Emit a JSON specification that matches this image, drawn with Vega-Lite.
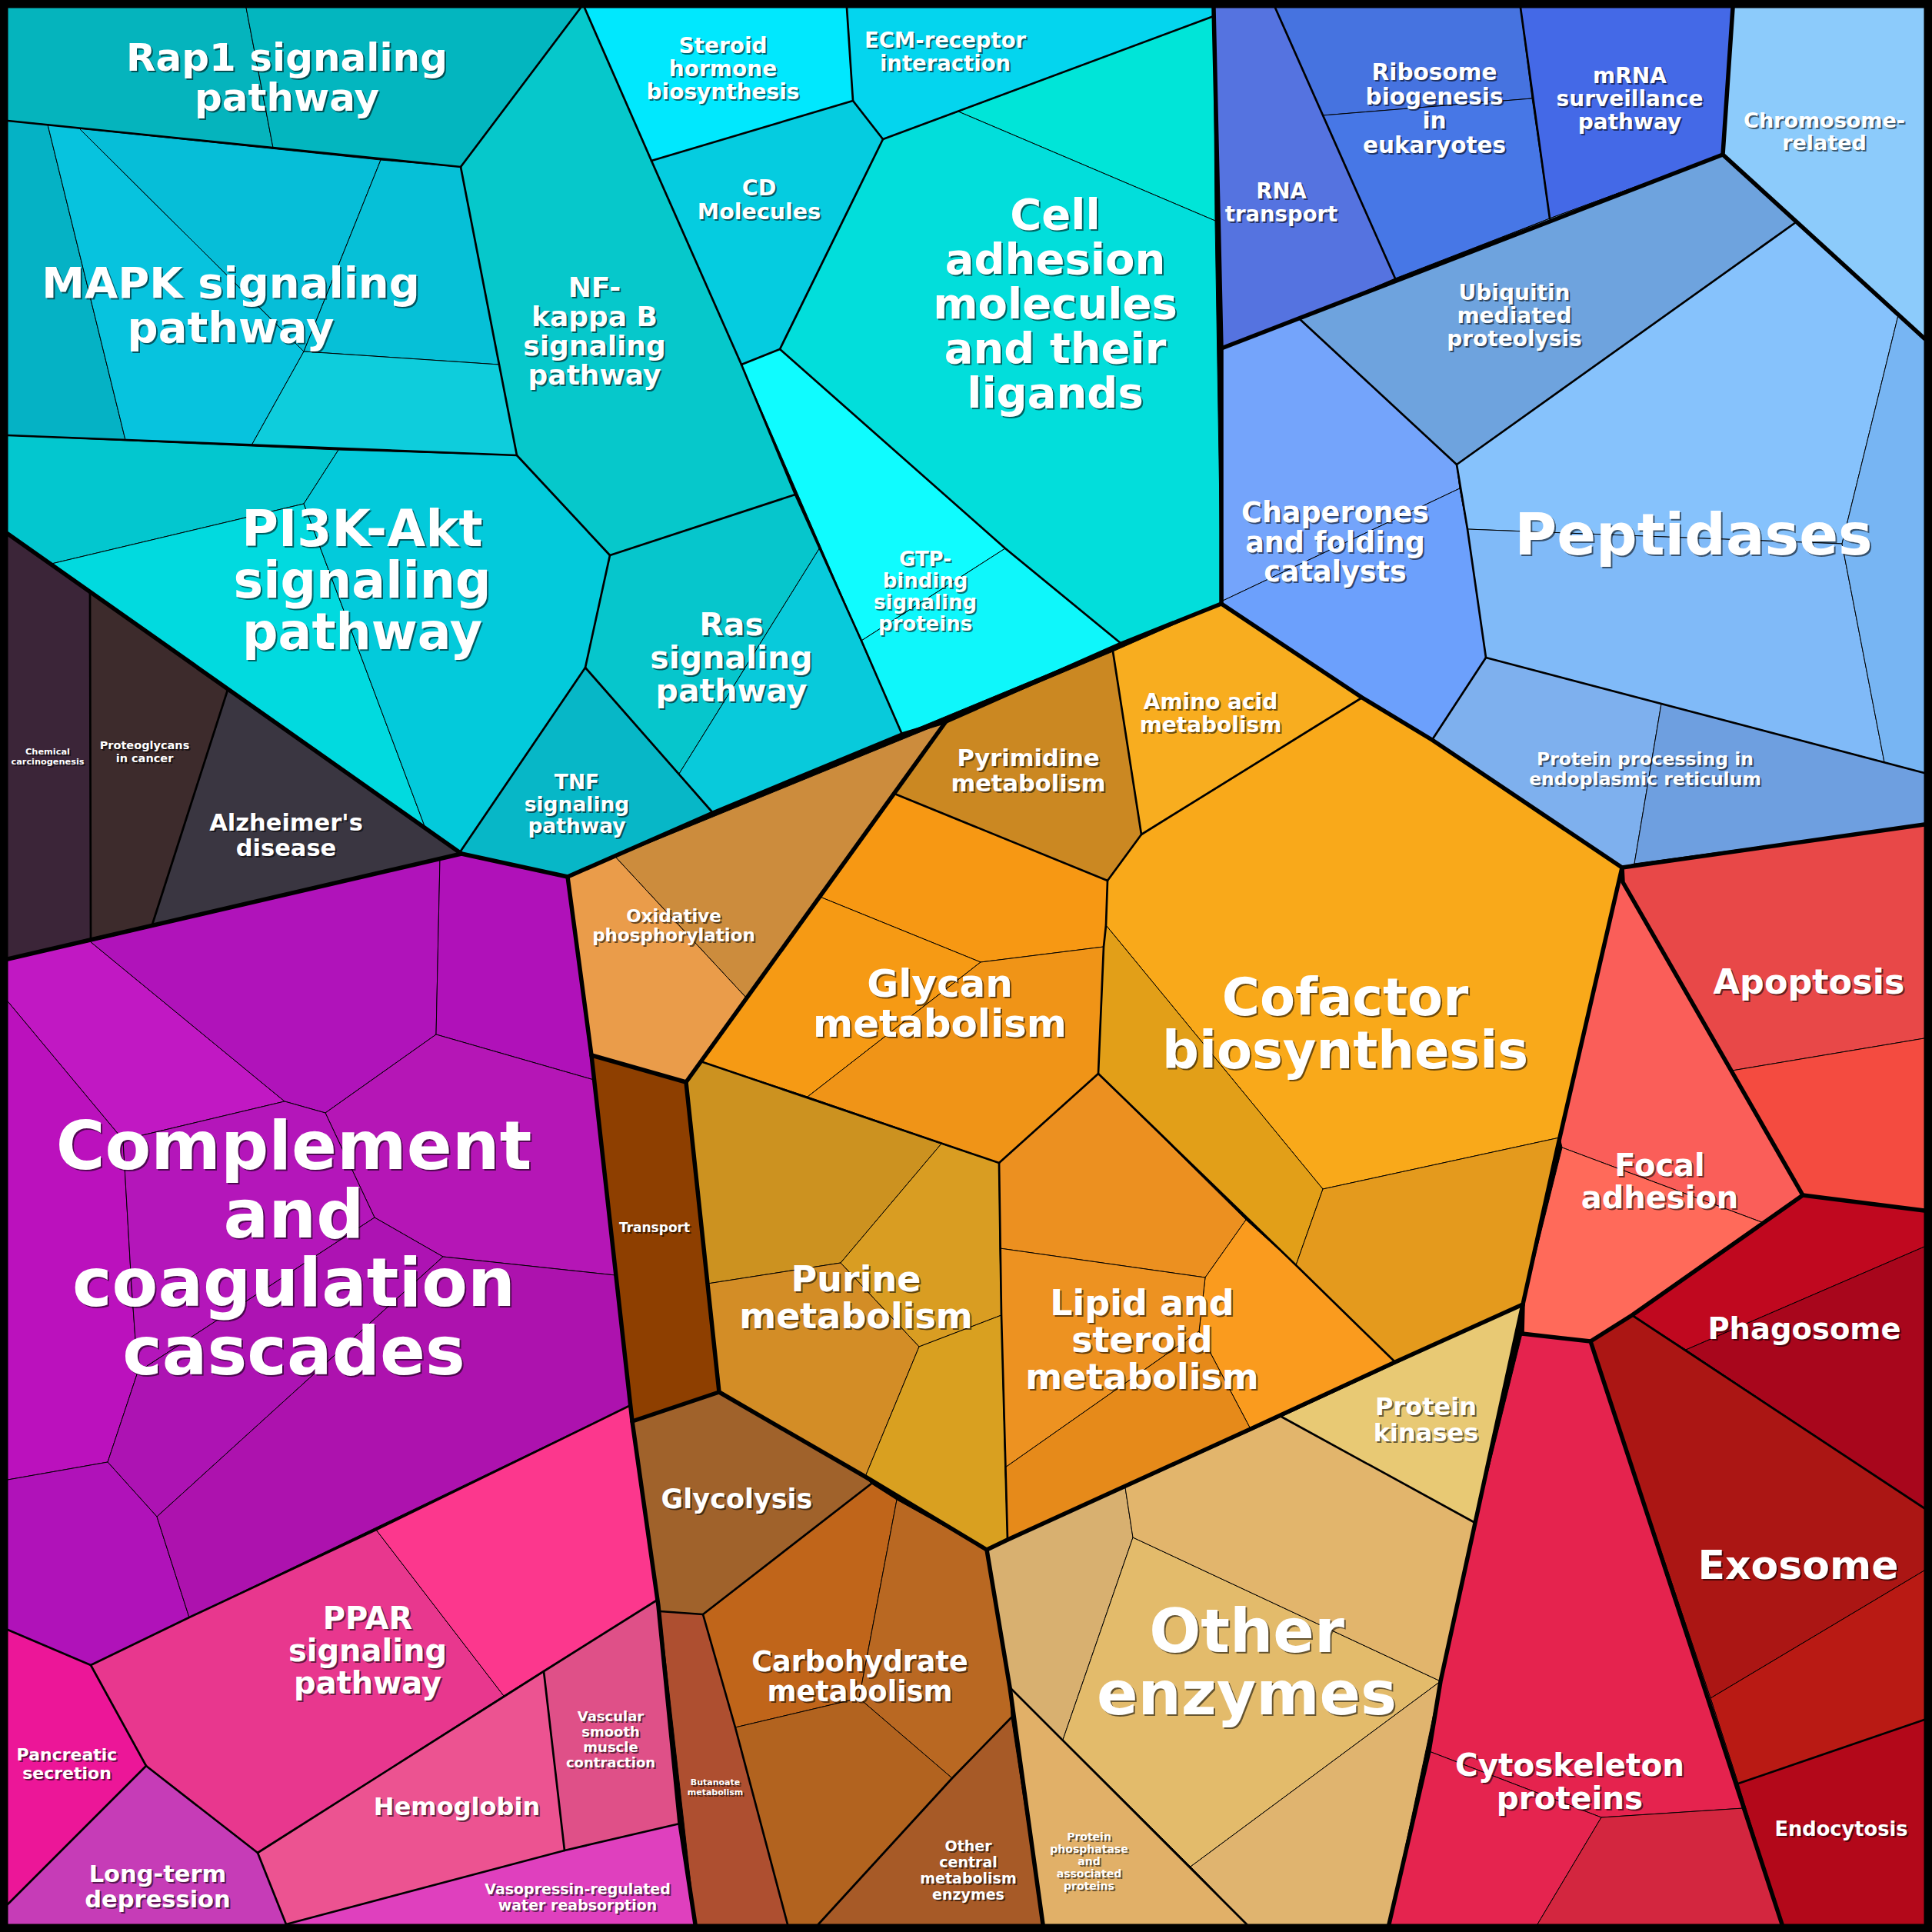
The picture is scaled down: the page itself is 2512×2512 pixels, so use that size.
{
"$schema":"https://vega.github.io/schema/vega-lite/v6.json",
"width":2512,"height":2512,"padding":0,"autosize":{"type":"none"},
"background":"#000000",
"view":{"stroke":null},
"projection":{"type":"identity"},
"datasets":{
"frame":[{"type":"Feature","properties":{"id":"frame"},"geometry":{"type":"Polygon","coordinates":[[[0,0],[2512,0],[2512,2512],[0,2512],[0,0]]]}}],
"cells":[
{"type":"Feature","properties":{"id":"rap1_a"},"geometry":{"type":"Polygon","coordinates":[[[10,10],[320,10],[355,192],[10,157],[10,10]]]}},
{"type":"Feature","properties":{"id":"rap1_b"},"geometry":{"type":"Polygon","coordinates":[[[320,10],[755,10],[599,217],[355,192],[320,10]]]}},
{"type":"Feature","properties":{"id":"mapk_1"},"geometry":{"type":"Polygon","coordinates":[[[10,157],[62,162],[163,572],[10,566],[10,157]]]}},
{"type":"Feature","properties":{"id":"mapk_2"},"geometry":{"type":"Polygon","coordinates":[[[62,162],[103,167],[395,457],[327,579],[163,572],[62,162]]]}},
{"type":"Feature","properties":{"id":"mapk_3"},"geometry":{"type":"Polygon","coordinates":[[[103,167],[495,208],[395,457],[103,167]]]}},
{"type":"Feature","properties":{"id":"mapk_4"},"geometry":{"type":"Polygon","coordinates":[[[495,208],[599,217],[649,474],[395,457],[495,208]]]}},
{"type":"Feature","properties":{"id":"mapk_5"},"geometry":{"type":"Polygon","coordinates":[[[395,457],[649,474],[672,592],[327,579],[395,457]]]}},
{"type":"Feature","properties":{"id":"nfkb"},"geometry":{"type":"Polygon","coordinates":[[[599,217],[755,10],[760,10],[847,209],[964,474],[1034,643],[793,722],[672,592],[649,474],[599,217]]]}},
{"type":"Feature","properties":{"id":"pi3k_1"},"geometry":{"type":"Polygon","coordinates":[[[10,566],[440,585],[395,655],[67,733],[10,694],[10,566]]]}},
{"type":"Feature","properties":{"id":"pi3k_2"},"geometry":{"type":"Polygon","coordinates":[[[67,733],[395,655],[552,1074],[67,733]]]}},
{"type":"Feature","properties":{"id":"pi3k_3"},"geometry":{"type":"Polygon","coordinates":[[[440,585],[672,592],[793,722],[761,868],[598,1108],[552,1074],[395,655],[440,585]]]}},
{"type":"Feature","properties":{"id":"ras_1"},"geometry":{"type":"Polygon","coordinates":[[[793,722],[1034,643],[1066,712],[883,1006],[761,868],[793,722]]]}},
{"type":"Feature","properties":{"id":"ras_2"},"geometry":{"type":"Polygon","coordinates":[[[1066,712],[1173,955],[927,1057],[883,1006],[1066,712]]]}},
{"type":"Feature","properties":{"id":"tnf"},"geometry":{"type":"Polygon","coordinates":[[[761,868],[927,1057],[738,1140],[598,1108],[761,868]]]}},
{"type":"Feature","properties":{"id":"steroid"},"geometry":{"type":"Polygon","coordinates":[[[760,10],[1101,10],[1109,131],[847,209],[760,10]]]}},
{"type":"Feature","properties":{"id":"ecm"},"geometry":{"type":"Polygon","coordinates":[[[1101,10],[1578,10],[1578,21],[1148,181],[1109,131],[1101,10]]]}},
{"type":"Feature","properties":{"id":"cd"},"geometry":{"type":"Polygon","coordinates":[[[847,209],[1109,131],[1148,181],[1014,454],[964,474],[847,209]]]}},
{"type":"Feature","properties":{"id":"cam_1"},"geometry":{"type":"Polygon","coordinates":[[[1246,145],[1578,21],[1580,287],[1246,145]]]}},
{"type":"Feature","properties":{"id":"cam_2"},"geometry":{"type":"Polygon","coordinates":[[[1148,181],[1246,145],[1580,287],[1588,785],[1458,837],[1307,713],[1014,454],[1148,181]]]}},
{"type":"Feature","properties":{"id":"gtp_1"},"geometry":{"type":"Polygon","coordinates":[[[964,474],[1014,454],[1307,713],[1120,833],[964,474]]]}},
{"type":"Feature","properties":{"id":"gtp_2"},"geometry":{"type":"Polygon","coordinates":[[[1120,833],[1307,713],[1458,837],[1173,955],[1120,833]]]}},
{"type":"Feature","properties":{"id":"chem"},"geometry":{"type":"Polygon","coordinates":[[[10,694],[117,770],[118,1220],[10,1247],[10,694]]]}},
{"type":"Feature","properties":{"id":"proteo"},"geometry":{"type":"Polygon","coordinates":[[[117,770],[296,897],[198,1202],[118,1220],[117,770]]]}},
{"type":"Feature","properties":{"id":"alz"},"geometry":{"type":"Polygon","coordinates":[[[296,897],[600,1110],[198,1202],[296,897]]]}},
{"type":"Feature","properties":{"id":"comp_1"},"geometry":{"type":"Polygon","coordinates":[[[10,1247],[117,1224],[370,1432],[160,1482],[10,1302],[10,1247]]]}},
{"type":"Feature","properties":{"id":"comp_2"},"geometry":{"type":"Polygon","coordinates":[[[10,1302],[160,1482],[171,1672],[179,1784],[140,1901],[10,1924],[10,1302]]]}},
{"type":"Feature","properties":{"id":"comp_3"},"geometry":{"type":"Polygon","coordinates":[[[117,1224],[572,1117],[567,1345],[423,1447],[370,1432],[117,1224]]]}},
{"type":"Feature","properties":{"id":"comp_4"},"geometry":{"type":"Polygon","coordinates":[[[572,1117],[600,1110],[738,1140],[769,1372],[772,1404],[567,1345],[572,1117]]]}},
{"type":"Feature","properties":{"id":"comp_5"},"geometry":{"type":"Polygon","coordinates":[[[567,1345],[772,1404],[800,1658],[576,1634],[487,1583],[423,1447],[567,1345]]]}},
{"type":"Feature","properties":{"id":"comp_6"},"geometry":{"type":"Polygon","coordinates":[[[160,1482],[370,1432],[423,1447],[487,1583],[179,1784],[171,1672],[160,1482]]]}},
{"type":"Feature","properties":{"id":"comp_7"},"geometry":{"type":"Polygon","coordinates":[[[179,1784],[487,1583],[576,1634],[204,1972],[140,1901],[179,1784]]]}},
{"type":"Feature","properties":{"id":"comp_8"},"geometry":{"type":"Polygon","coordinates":[[[10,1924],[140,1901],[204,1972],[246,2103],[118,2165],[10,2119],[10,1924]]]}},
{"type":"Feature","properties":{"id":"comp_9"},"geometry":{"type":"Polygon","coordinates":[[[204,1972],[576,1634],[800,1658],[820,1827],[246,2103],[204,1972]]]}},
{"type":"Feature","properties":{"id":"panc"},"geometry":{"type":"Polygon","coordinates":[[[10,2119],[118,2165],[190,2296],[10,2476],[10,2119]]]}},
{"type":"Feature","properties":{"id":"ltd"},"geometry":{"type":"Polygon","coordinates":[[[10,2476],[190,2296],[335,2409],[372,2502],[10,2502],[10,2476]]]}},
{"type":"Feature","properties":{"id":"ppar_1"},"geometry":{"type":"Polygon","coordinates":[[[118,2165],[246,2103],[489,1989],[655,2205],[335,2409],[190,2296],[118,2165]]]}},
{"type":"Feature","properties":{"id":"ppar_2"},"geometry":{"type":"Polygon","coordinates":[[[489,1989],[820,1827],[855,2080],[655,2205],[489,1989]]]}},
{"type":"Feature","properties":{"id":"hemo"},"geometry":{"type":"Polygon","coordinates":[[[335,2409],[707,2173],[734,2406],[372,2502],[335,2409]]]}},
{"type":"Feature","properties":{"id":"vsmc"},"geometry":{"type":"Polygon","coordinates":[[[707,2173],[855,2080],[884,2371],[734,2406],[707,2173]]]}},
{"type":"Feature","properties":{"id":"vaso"},"geometry":{"type":"Polygon","coordinates":[[[372,2502],[734,2406],[884,2371],[904,2502],[372,2502]]]}},
{"type":"Feature","properties":{"id":"oxphos_1"},"geometry":{"type":"Polygon","coordinates":[[[800,1114],[1230,938],[970,1297],[800,1114]]]}},
{"type":"Feature","properties":{"id":"oxphos_2"},"geometry":{"type":"Polygon","coordinates":[[[738,1140],[800,1114],[970,1297],[892,1407],[769,1372],[738,1140]]]}},
{"type":"Feature","properties":{"id":"transport"},"geometry":{"type":"Polygon","coordinates":[[[769,1372],[892,1407],[935,1810],[822,1848],[769,1372]]]}},
{"type":"Feature","properties":{"id":"pyr"},"geometry":{"type":"Polygon","coordinates":[[[1230,938],[1447,847],[1484,1085],[1440,1145],[1163,1032],[1230,938]]]}},
{"type":"Feature","properties":{"id":"amino"},"geometry":{"type":"Polygon","coordinates":[[[1447,847],[1588,785],[1771,907],[1484,1085],[1447,847]]]}},
{"type":"Feature","properties":{"id":"glycan_1"},"geometry":{"type":"Polygon","coordinates":[[[1163,1032],[1440,1145],[1438,1203],[1435,1231],[1275,1251],[1066,1166],[1163,1032]]]}},
{"type":"Feature","properties":{"id":"glycan_2"},"geometry":{"type":"Polygon","coordinates":[[[1066,1166],[1275,1251],[1050,1426],[911,1380],[1066,1166]]]}},
{"type":"Feature","properties":{"id":"glycan_3"},"geometry":{"type":"Polygon","coordinates":[[[1275,1251],[1435,1231],[1428,1396],[1299,1512],[1050,1426],[1275,1251]]]}},
{"type":"Feature","properties":{"id":"cof_1"},"geometry":{"type":"Polygon","coordinates":[[[1484,1085],[1771,907],[1862,962],[2109,1128],[2028,1479],[1720,1546],[1438,1203],[1440,1145],[1484,1085]]]}},
{"type":"Feature","properties":{"id":"cof_2"},"geometry":{"type":"Polygon","coordinates":[[[1438,1203],[1720,1546],[1685,1645],[1428,1396],[1435,1231],[1438,1203]]]}},
{"type":"Feature","properties":{"id":"cof_3"},"geometry":{"type":"Polygon","coordinates":[[[1720,1546],[2028,1479],[1980,1696],[1814,1771],[1685,1645],[1720,1546]]]}},
{"type":"Feature","properties":{"id":"pur_1"},"geometry":{"type":"Polygon","coordinates":[[[911,1380],[1224,1487],[1093,1642],[920,1669],[892,1407],[911,1380]]]}},
{"type":"Feature","properties":{"id":"pur_2"},"geometry":{"type":"Polygon","coordinates":[[[1224,1487],[1299,1512],[1302,1710],[1195,1751],[1093,1642],[1224,1487]]]}},
{"type":"Feature","properties":{"id":"pur_3"},"geometry":{"type":"Polygon","coordinates":[[[920,1669],[1093,1642],[1195,1751],[1125,1920],[935,1810],[920,1669]]]}},
{"type":"Feature","properties":{"id":"pur_4"},"geometry":{"type":"Polygon","coordinates":[[[1195,1751],[1302,1710],[1307,1908],[1310,2002],[1283,2015],[1125,1920],[1195,1751]]]}},
{"type":"Feature","properties":{"id":"lipid_1"},"geometry":{"type":"Polygon","coordinates":[[[1299,1512],[1428,1396],[1620,1586],[1567,1661],[1300,1623],[1299,1512]]]}},
{"type":"Feature","properties":{"id":"lipid_2"},"geometry":{"type":"Polygon","coordinates":[[[1620,1586],[1685,1645],[1814,1771],[1626,1858],[1559,1731],[1567,1661],[1620,1586]]]}},
{"type":"Feature","properties":{"id":"lipid_3"},"geometry":{"type":"Polygon","coordinates":[[[1300,1623],[1567,1661],[1559,1731],[1307,1908],[1302,1710],[1300,1623]]]}},
{"type":"Feature","properties":{"id":"lipid_4"},"geometry":{"type":"Polygon","coordinates":[[[1307,1908],[1559,1731],[1626,1858],[1310,2002],[1307,1908]]]}},
{"type":"Feature","properties":{"id":"glycolysis"},"geometry":{"type":"Polygon","coordinates":[[[822,1848],[935,1810],[1125,1920],[1133,1929],[914,2099],[858,2095],[822,1848]]]}},
{"type":"Feature","properties":{"id":"carb_1"},"geometry":{"type":"Polygon","coordinates":[[[1133,1929],[1166,1950],[1117,2208],[956,2246],[914,2099],[1133,1929]]]}},
{"type":"Feature","properties":{"id":"carb_2"},"geometry":{"type":"Polygon","coordinates":[[[1166,1950],[1283,2015],[1313,2194],[1315,2233],[1238,2312],[1117,2208],[1166,1950]]]}},
{"type":"Feature","properties":{"id":"carb_3"},"geometry":{"type":"Polygon","coordinates":[[[956,2246],[1117,2208],[1238,2312],[1064,2502],[1024,2502],[956,2246]]]}},
{"type":"Feature","properties":{"id":"ocme"},"geometry":{"type":"Polygon","coordinates":[[[1238,2312],[1315,2233],[1356,2502],[1064,2502],[1238,2312]]]}},
{"type":"Feature","properties":{"id":"butanoate"},"geometry":{"type":"Polygon","coordinates":[[[858,2095],[914,2099],[956,2246],[1024,2502],[904,2502],[858,2095]]]}},
{"type":"Feature","properties":{"id":"oe_1"},"geometry":{"type":"Polygon","coordinates":[[[1283,2015],[1463,1934],[1473,1999],[1382,2262],[1313,2194],[1283,2015]]]}},
{"type":"Feature","properties":{"id":"oe_2"},"geometry":{"type":"Polygon","coordinates":[[[1473,1999],[1873,2186],[1548,2427],[1382,2262],[1473,1999]]]}},
{"type":"Feature","properties":{"id":"oe_3"},"geometry":{"type":"Polygon","coordinates":[[[1463,1934],[1666,1842],[1918,1980],[1873,2186],[1473,1999],[1463,1934]]]}},
{"type":"Feature","properties":{"id":"oe_4"},"geometry":{"type":"Polygon","coordinates":[[[1548,2427],[1873,2186],[1806,2502],[1621,2502],[1548,2427]]]}},
{"type":"Feature","properties":{"id":"phosphatase"},"geometry":{"type":"Polygon","coordinates":[[[1313,2194],[1382,2262],[1548,2427],[1621,2502],[1356,2502],[1313,2194]]]}},
{"type":"Feature","properties":{"id":"kinases"},"geometry":{"type":"Polygon","coordinates":[[[1666,1842],[1980,1696],[1918,1980],[1666,1842]]]}},
{"type":"Feature","properties":{"id":"rna"},"geometry":{"type":"Polygon","coordinates":[[[1578,10],[1658,10],[1814,362],[1690,415],[1588,453],[1578,10]]]}},
{"type":"Feature","properties":{"id":"ribo_1"},"geometry":{"type":"Polygon","coordinates":[[[1658,10],[1977,10],[1992,128],[1720,150],[1658,10]]]}},
{"type":"Feature","properties":{"id":"ribo_2"},"geometry":{"type":"Polygon","coordinates":[[[1720,150],[1992,128],[2015,284],[1814,362],[1720,150]]]}},
{"type":"Feature","properties":{"id":"mrna"},"geometry":{"type":"Polygon","coordinates":[[[1977,10],[2253,10],[2240,201],[2015,284],[1977,10]]]}},
{"type":"Feature","properties":{"id":"chrom"},"geometry":{"type":"Polygon","coordinates":[[[2253,10],[2502,10],[2502,440],[2468,410],[2335,289],[2240,201],[2253,10]]]}},
{"type":"Feature","properties":{"id":"ubiq"},"geometry":{"type":"Polygon","coordinates":[[[1690,415],[2015,284],[2240,201],[2335,289],[1894,604],[1690,415]]]}},
{"type":"Feature","properties":{"id":"chap_1"},"geometry":{"type":"Polygon","coordinates":[[[1588,453],[1690,415],[1894,604],[1898,635],[1590,781],[1588,453]]]}},
{"type":"Feature","properties":{"id":"chap_2"},"geometry":{"type":"Polygon","coordinates":[[[1590,781],[1898,635],[1908,688],[1932,855],[1862,962],[1771,907],[1588,785],[1590,781]]]}},
{"type":"Feature","properties":{"id":"pept_1"},"geometry":{"type":"Polygon","coordinates":[[[1894,604],[2335,289],[2468,410],[2395,707],[1908,688],[1898,635],[1894,604]]]}},
{"type":"Feature","properties":{"id":"pept_2"},"geometry":{"type":"Polygon","coordinates":[[[1908,688],[2395,707],[2450,991],[1932,855],[1908,688]]]}},
{"type":"Feature","properties":{"id":"pept_3"},"geometry":{"type":"Polygon","coordinates":[[[2468,410],[2502,440],[2502,1005],[2450,991],[2395,707],[2468,410]]]}},
{"type":"Feature","properties":{"id":"ppe_1"},"geometry":{"type":"Polygon","coordinates":[[[1862,962],[1932,855],[2160,915],[2125,1123],[2109,1128],[1862,962]]]}},
{"type":"Feature","properties":{"id":"ppe_2"},"geometry":{"type":"Polygon","coordinates":[[[2160,915],[2502,1005],[2502,1072],[2125,1123],[2160,915]]]}},
{"type":"Feature","properties":{"id":"apo_1"},"geometry":{"type":"Polygon","coordinates":[[[2109,1128],[2502,1072],[2502,1350],[2252,1392],[2110,1147],[2109,1128]]]}},
{"type":"Feature","properties":{"id":"apo_2"},"geometry":{"type":"Polygon","coordinates":[[[2110,1147],[2252,1392],[2502,1350],[2502,1574],[2344,1554],[2110,1147]]]}},
{"type":"Feature","properties":{"id":"focal_1"},"geometry":{"type":"Polygon","coordinates":[[[2110,1147],[2344,1554],[2293,1590],[2031,1492],[2028,1479],[2109,1128],[2110,1147]]]}},
{"type":"Feature","properties":{"id":"focal_2"},"geometry":{"type":"Polygon","coordinates":[[[2031,1492],[2293,1590],[2122,1710],[2068,1744],[1979,1734],[1980,1696],[2031,1492]]]}},
{"type":"Feature","properties":{"id":"phago_1"},"geometry":{"type":"Polygon","coordinates":[[[2344,1554],[2502,1574],[2502,1621],[2192,1755],[2122,1710],[2344,1554]]]}},
{"type":"Feature","properties":{"id":"phago_2"},"geometry":{"type":"Polygon","coordinates":[[[2192,1755],[2502,1621],[2502,1961],[2192,1755]]]}},
{"type":"Feature","properties":{"id":"exo_1"},"geometry":{"type":"Polygon","coordinates":[[[2068,1744],[2122,1710],[2192,1755],[2502,1961],[2502,2042],[2224,2208],[2068,1744]]]}},
{"type":"Feature","properties":{"id":"exo_2"},"geometry":{"type":"Polygon","coordinates":[[[2224,2208],[2502,2042],[2502,2236],[2260,2319],[2224,2208]]]}},
{"type":"Feature","properties":{"id":"endo"},"geometry":{"type":"Polygon","coordinates":[[[2260,2319],[2502,2236],[2502,2502],[2317,2502],[2260,2319]]]}},
{"type":"Feature","properties":{"id":"cyto_1"},"geometry":{"type":"Polygon","coordinates":[[[1979,1734],[2068,1744],[2224,2208],[2260,2319],[2267,2351],[2082,2363],[1858,2277],[1873,2186],[1918,1980],[1979,1734]]]}},
{"type":"Feature","properties":{"id":"cyto_2"},"geometry":{"type":"Polygon","coordinates":[[[1858,2277],[2082,2363],[1999,2502],[1806,2502],[1858,2277]]]}},
{"type":"Feature","properties":{"id":"cyto_3"},"geometry":{"type":"Polygon","coordinates":[[[2082,2363],[2267,2351],[2317,2502],[1999,2502],[2082,2363]]]}}
],
"edges":[
{"type":"Feature","properties":{"level":"medium"},"geometry":{"type":"LineString","coordinates":[[10,157],[599,217]]}},
{"type":"Feature","properties":{"level":"medium"},"geometry":{"type":"LineString","coordinates":[[599,217],[755,10]]}},
{"type":"Feature","properties":{"level":"medium"},"geometry":{"type":"LineString","coordinates":[[760,10],[847,209],[964,474],[1034,643],[1120,833],[1173,955]]}},
{"type":"Feature","properties":{"level":"medium"},"geometry":{"type":"LineString","coordinates":[[10,566],[672,592]]}},
{"type":"Feature","properties":{"level":"medium"},"geometry":{"type":"LineString","coordinates":[[599,217],[649,474],[672,592],[793,722],[761,868],[598,1108]]}},
{"type":"Feature","properties":{"level":"medium"},"geometry":{"type":"LineString","coordinates":[[793,722],[1034,643]]}},
{"type":"Feature","properties":{"level":"medium"},"geometry":{"type":"LineString","coordinates":[[761,868],[927,1057]]}},
{"type":"Feature","properties":{"level":"medium"},"geometry":{"type":"LineString","coordinates":[[1101,10],[1109,131],[847,209]]}},
{"type":"Feature","properties":{"level":"medium"},"geometry":{"type":"LineString","coordinates":[[1109,131],[1148,181],[1014,454],[964,474]]}},
{"type":"Feature","properties":{"level":"medium"},"geometry":{"type":"LineString","coordinates":[[1148,181],[1578,21]]}},
{"type":"Feature","properties":{"level":"medium"},"geometry":{"type":"LineString","coordinates":[[1014,454],[1307,713],[1458,837]]}},
{"type":"Feature","properties":{"level":"medium"},"geometry":{"type":"LineString","coordinates":[[117,770],[118,1220]]}},
{"type":"Feature","properties":{"level":"medium"},"geometry":{"type":"LineString","coordinates":[[296,897],[198,1202]]}},
{"type":"Feature","properties":{"level":"medium"},"geometry":{"type":"LineString","coordinates":[[10,2119],[118,2165],[246,2103],[489,1989],[820,1827]]}},
{"type":"Feature","properties":{"level":"medium"},"geometry":{"type":"LineString","coordinates":[[118,2165],[190,2296],[10,2476]]}},
{"type":"Feature","properties":{"level":"medium"},"geometry":{"type":"LineString","coordinates":[[190,2296],[335,2409],[372,2502]]}},
{"type":"Feature","properties":{"level":"medium"},"geometry":{"type":"LineString","coordinates":[[335,2409],[707,2173],[855,2080]]}},
{"type":"Feature","properties":{"level":"medium"},"geometry":{"type":"LineString","coordinates":[[707,2173],[734,2406]]}},
{"type":"Feature","properties":{"level":"medium"},"geometry":{"type":"LineString","coordinates":[[372,2502],[734,2406],[884,2371]]}},
{"type":"Feature","properties":{"level":"medium"},"geometry":{"type":"LineString","coordinates":[[1163,1032],[1440,1145],[1484,1085],[1447,847]]}},
{"type":"Feature","properties":{"level":"medium"},"geometry":{"type":"LineString","coordinates":[[1484,1085],[1771,907]]}},
{"type":"Feature","properties":{"level":"medium"},"geometry":{"type":"LineString","coordinates":[[1440,1145],[1438,1203],[1435,1231],[1428,1396],[1299,1512],[911,1380]]}},
{"type":"Feature","properties":{"level":"medium"},"geometry":{"type":"LineString","coordinates":[[1428,1396],[1685,1645],[1814,1771]]}},
{"type":"Feature","properties":{"level":"medium"},"geometry":{"type":"LineString","coordinates":[[1299,1512],[1302,1710],[1310,2002]]}},
{"type":"Feature","properties":{"level":"medium"},"geometry":{"type":"LineString","coordinates":[[1133,1929],[914,2099],[858,2095]]}},
{"type":"Feature","properties":{"level":"medium"},"geometry":{"type":"LineString","coordinates":[[914,2099],[956,2246],[1024,2502]]}},
{"type":"Feature","properties":{"level":"medium"},"geometry":{"type":"LineString","coordinates":[[1315,2233],[1238,2312],[1064,2502]]}},
{"type":"Feature","properties":{"level":"medium"},"geometry":{"type":"LineString","coordinates":[[1313,2194],[1621,2502]]}},
{"type":"Feature","properties":{"level":"medium"},"geometry":{"type":"LineString","coordinates":[[1666,1842],[1918,1980]]}},
{"type":"Feature","properties":{"level":"medium"},"geometry":{"type":"LineString","coordinates":[[1658,10],[1814,362]]}},
{"type":"Feature","properties":{"level":"medium"},"geometry":{"type":"LineString","coordinates":[[1977,10],[2015,284]]}},
{"type":"Feature","properties":{"level":"medium"},"geometry":{"type":"LineString","coordinates":[[1690,415],[1894,604],[2335,289]]}},
{"type":"Feature","properties":{"level":"medium"},"geometry":{"type":"LineString","coordinates":[[1894,604],[1908,688],[1932,855],[1862,962]]}},
{"type":"Feature","properties":{"level":"medium"},"geometry":{"type":"LineString","coordinates":[[1932,855],[2502,1005]]}},
{"type":"Feature","properties":{"level":"medium"},"geometry":{"type":"LineString","coordinates":[[2122,1710],[2502,1961]]}},
{"type":"Feature","properties":{"level":"medium"},"geometry":{"type":"LineString","coordinates":[[2260,2319],[2502,2236]]}},
{"type":"Feature","properties":{"level":"thick"},"geometry":{"type":"LineString","coordinates":[[1578,10],[1588,453],[1588,785]]}},
{"type":"Feature","properties":{"level":"thick"},"geometry":{"type":"LineString","coordinates":[[10,694],[600,1110]]}},
{"type":"Feature","properties":{"level":"thick"},"geometry":{"type":"LineString","coordinates":[[10,1247],[600,1110],[738,1140]]}},
{"type":"Feature","properties":{"level":"thick"},"geometry":{"type":"LineString","coordinates":[[738,1140],[927,1057],[1173,955],[1230,938],[1458,837],[1588,785]]}},
{"type":"Feature","properties":{"level":"thick"},"geometry":{"type":"LineString","coordinates":[[1230,938],[892,1407]]}},
{"type":"Feature","properties":{"level":"thick"},"geometry":{"type":"LineString","coordinates":[[769,1372],[892,1407],[935,1810],[822,1848]]}},
{"type":"Feature","properties":{"level":"thick"},"geometry":{"type":"LineString","coordinates":[[738,1140],[769,1372],[822,1848],[856,2088],[884,2371],[904,2502]]}},
{"type":"Feature","properties":{"level":"thick"},"geometry":{"type":"LineString","coordinates":[[935,1810],[1125,1920],[1283,2015]]}},
{"type":"Feature","properties":{"level":"thick"},"geometry":{"type":"LineString","coordinates":[[1283,2015],[1313,2194],[1356,2502]]}},
{"type":"Feature","properties":{"level":"thick"},"geometry":{"type":"LineString","coordinates":[[1283,2015],[1310,2002],[1626,1858],[1814,1771],[1980,1696]]}},
{"type":"Feature","properties":{"level":"thick"},"geometry":{"type":"LineString","coordinates":[[1980,1696],[1918,1980],[1873,2186],[1858,2277],[1806,2502]]}},
{"type":"Feature","properties":{"level":"thick"},"geometry":{"type":"LineString","coordinates":[[1588,785],[1771,907],[1862,962],[2109,1128]]}},
{"type":"Feature","properties":{"level":"thick"},"geometry":{"type":"LineString","coordinates":[[2109,1128],[2028,1479],[1980,1696],[1979,1734]]}},
{"type":"Feature","properties":{"level":"thick"},"geometry":{"type":"LineString","coordinates":[[2109,1128],[2502,1072]]}},
{"type":"Feature","properties":{"level":"thick"},"geometry":{"type":"LineString","coordinates":[[2109,1128],[2110,1147],[2344,1554],[2502,1574]]}},
{"type":"Feature","properties":{"level":"thick"},"geometry":{"type":"LineString","coordinates":[[2344,1554],[2122,1710],[2068,1744]]}},
{"type":"Feature","properties":{"level":"thick"},"geometry":{"type":"LineString","coordinates":[[1979,1734],[2068,1744],[2317,2502]]}},
{"type":"Feature","properties":{"level":"thick"},"geometry":{"type":"LineString","coordinates":[[1588,453],[2240,201]]}},
{"type":"Feature","properties":{"level":"thick"},"geometry":{"type":"LineString","coordinates":[[2253,10],[2240,201],[2502,440]]}}
],
"labels":[
{"label":"Rap1 signaling\npathway","x":373,"y":77,"fs":50},
{"label":"MAPK signaling\npathway","x":300,"y":370,"fs":56},
{"label":"PI3K-Akt\nsignaling\npathway","x":471,"y":690,"fs":65},
{"label":"NF-\nkappa B\nsignaling\npathway","x":773,"y":375,"fs":36},
{"label":"Steroid\nhormone\nbiosynthesis","x":940,"y":61,"fs":28},
{"label":"ECM-receptor\ninteraction","x":1229,"y":54,"fs":27.5},
{"label":"CD\nMolecules","x":987,"y":245,"fs":28.5},
{"label":"Cell\nadhesion\nmolecules\nand their\nligands","x":1372,"y":281,"fs":56},
{"label":"GTP-\nbinding\nsignaling\nproteins","x":1203,"y":728,"fs":26},
{"label":"Ras\nsignaling\npathway","x":951,"y":814,"fs":41},
{"label":"TNF\nsignaling\npathway","x":750,"y":1018,"fs":26.5},
{"label":"Chemical\ncarcinogenesis","x":62,"y":978,"fs":11.3},
{"label":"Proteoglycans\nin cancer","x":188,"y":970,"fs":14.5},
{"label":"Alzheimer's\ndisease","x":372,"y":1071,"fs":30.5},
{"label":"Complement\nand\ncoagulation\ncascades","x":382,"y":1494,"fs":87},
{"label":"PPAR\nsignaling\npathway","x":478,"y":2106,"fs":40},
{"label":"Pancreatic\nsecretion","x":87,"y":2282,"fs":22},
{"label":"Long-term\ndepression","x":205,"y":2438,"fs":30.5},
{"label":"Hemoglobin","x":594,"y":2350,"fs":32},
{"label":"Vascular\nsmooth\nmuscle\ncontraction","x":794,"y":2233,"fs":18},
{"label":"Vasopressin-regulated\nwater reabsorption","x":751,"y":2457,"fs":19},
{"label":"Oxidative\nphosphorylation","x":876,"y":1192,"fs":23},
{"label":"Transport","x":851,"y":1597,"fs":17},
{"label":"Pyrimidine\nmetabolism","x":1337,"y":987,"fs":30.5},
{"label":"Amino acid\nmetabolism","x":1574,"y":914,"fs":28},
{"label":"Glycan\nmetabolism","x":1222,"y":1281,"fs":50},
{"label":"Cofactor\nbiosynthesis","x":1749,"y":1300,"fs":67},
{"label":"Purine\nmetabolism","x":1113,"y":1665,"fs":46},
{"label":"Lipid and\nsteroid\nmetabolism","x":1485,"y":1696,"fs":46},
{"label":"Glycolysis","x":958,"y":1950,"fs":35},
{"label":"Carbohydrate\nmetabolism","x":1118,"y":2162,"fs":36.5},
{"label":"Butanoate\nmetabolism","x":930,"y":2318,"fs":11},
{"label":"Other\ncentral\nmetabolism\nenzymes","x":1259,"y":2401,"fs":19},
{"label":"Protein\nphosphatase\nand\nassociated\nproteins","x":1416,"y":2389,"fs":14},
{"label":"Other\nenzymes","x":1621,"y":2124,"fs":79},
{"label":"Protein\nkinases","x":1854,"y":1830,"fs":32},
{"label":"Peptidases","x":2202,"y":698,"fs":75},
{"label":"Chaperones\nand folding\ncatalysts","x":1736,"y":668,"fs":36.5},
{"label":"Ubiquitin\nmediated\nproteolysis","x":1969,"y":382,"fs":28},
{"label":"RNA\ntransport","x":1666,"y":250,"fs":27.5},
{"label":"Ribosome\nbiogenesis\nin\neukaryotes","x":1865,"y":95,"fs":29.5},
{"label":"mRNA\nsurveillance\npathway","x":2119,"y":100,"fs":28},
{"label":"Chromosome-\nrelated","x":2372,"y":158,"fs":27},
{"label":"Protein processing in\nendoplasmic reticulum","x":2139,"y":988,"fs":23.5},
{"label":"Apoptosis","x":2352,"y":1279,"fs":44.5},
{"label":"Focal\nadhesion","x":2158,"y":1517,"fs":40},
{"label":"Phagosome","x":2346,"y":1729,"fs":38.5},
{"label":"Exosome","x":2338,"y":2037,"fs":52},
{"label":"Endocytosis","x":2394,"y":2379,"fs":25.7},
{"label":"Cytoskeleton\nproteins","x":2041,"y":2297,"fs":40.5}
]
},
"layer":[
{"data":{"name":"frame"},"mark":{"type":"geoshape","fill":"#000000","stroke":null},"encoding":{}},
{"data":{"name":"cells"},"mark":{"type":"geoshape","stroke":"#000000","strokeWidth":1,"strokeJoin":"round"},
 "encoding":{"color":{"field":"properties.id","type":"nominal","legend":null,
  "scale":{"domain":["rap1_a","rap1_b","mapk_1","mapk_2","mapk_3","mapk_4","mapk_5","nfkb","pi3k_1","pi3k_2","pi3k_3","ras_1","ras_2","tnf","steroid","ecm","cd","cam_1","cam_2","gtp_1","gtp_2","chem","proteo","alz","comp_1","comp_2","comp_3","comp_4","comp_5","comp_6","comp_7","comp_8","comp_9","panc","ltd","ppar_1","ppar_2","hemo","vsmc","vaso","oxphos_1","oxphos_2","transport","pyr","amino","glycan_1","glycan_2","glycan_3","cof_1","cof_2","cof_3","pur_1","pur_2","pur_3","pur_4","lipid_1","lipid_2","lipid_3","lipid_4","glycolysis","carb_1","carb_2","carb_3","ocme","butanoate","oe_1","oe_2","oe_3","oe_4","phosphatase","kinases","rna","ribo_1","ribo_2","mrna","chrom","ubiq","chap_1","chap_2","pept_1","pept_2","pept_3","ppe_1","ppe_2","apo_1","apo_2","focal_1","focal_2","phago_1","phago_2","exo_1","exo_2","endo","cyto_1","cyto_2","cyto_3"],
  "range":["#05b4bd","#03b6bf","#05b2c5","#07c3de","#06bed8","#06c0d7","#0ecddc","#06c8cb","#03c7cf","#01dadf","#03cadb","#06c6cc","#08cadb","#07b7c7","#00e8fe","#04d5ee","#05cce0","#00e5d8","#02dedb","#0ffcff","#0ef7fb","#3b2538","#3d2b2c","#3a3641","#c118c3","#bb11bd","#b013ba","#b011b9","#b516b6","#b416ba","#ad13b3","#b012b9","#ad12ae","#ec1698","#c63cb7","#e8378e","#fc378d","#ec5391","#df5088","#df40be","#cc8c3d","#ea9c4a","#8e3f00","#cb8822","#f8ad1f","#f79813","#f69a14","#f09417","#f9a91a","#e29f18","#e49a1d","#cc9220","#d99d22","#d38d26","#d9a020","#ec9020","#fa9b1e","#ed9221","#e68a1a","#a0622b","#c0651a","#b96822","#b2631f","#a75a27","#ae4f30","#d8b070","#e3bb6b","#e2b56c","#e0b46f","#e1b068","#e8c974","#5573e0","#4673e0","#4777e6","#4469e7","#8ccbfb","#6ea3de","#74a4fb","#6ca0fc","#86c2fc","#80baf8","#77b5f3","#7eb0ee","#6e9fe0","#e84848","#f44b40","#fa5e59","#ff6a5a","#c0081f","#a8061c","#ab1614","#b91a14","#b3081a","#e5234e","#e5244f","#d3263f"]}}}},
{"data":{"name":"edges"},"mark":{"type":"geoshape","filled":false,"stroke":"#000000","strokeJoin":"round","strokeCap":"round"},
 "encoding":{"strokeWidth":{"field":"properties.level","type":"ordinal","legend":null,"scale":{"domain":["medium","thick"],"range":[2.7,5.5]}}}},
{"data":{"name":"labels"},"mark":{"type":"text","font":"DejaVu Sans","fontWeight":"bold","fill":"#000000","opacity":0.55,"dx":2,"dy":2,"lineBreak":"\n","align":"center","baseline":"middle"},
 "encoding":{"longitude":{"field":"x","type":"quantitative"},"latitude":{"field":"y","type":"quantitative"},"text":{"field":"label","type":"nominal"},"size":{"field":"fs","type":"quantitative","scale":null}}},
{"data":{"name":"labels"},"mark":{"type":"text","font":"DejaVu Sans","fontWeight":"bold","fill":"#ffffff","lineBreak":"\n","align":"center","baseline":"middle"},
 "encoding":{"longitude":{"field":"x","type":"quantitative"},"latitude":{"field":"y","type":"quantitative"},"text":{"field":"label","type":"nominal"},"size":{"field":"fs","type":"quantitative","scale":null}}}
]
}
